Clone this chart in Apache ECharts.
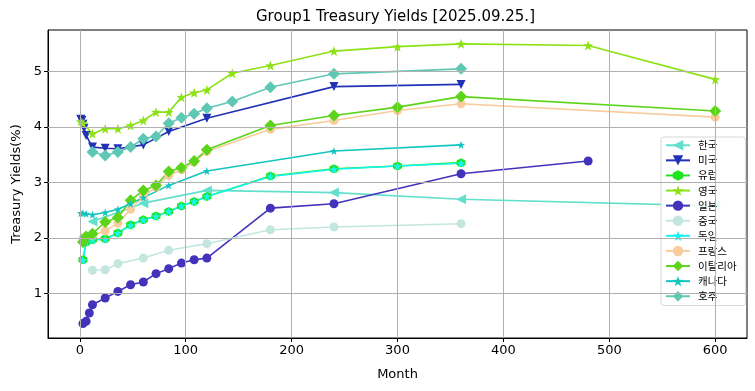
<!DOCTYPE html>
<html>
<head>
<meta charset="utf-8">
<script src="https://cdn.jsdelivr.net/npm/echarts@6/dist/echarts.min.js"></script>
<style>html,body{margin:0;padding:0;background:#fff;}#c{width:755px;height:391px;}</style>
</head>
<body>
<div id="c"></div>
<script>
// ---- data (months, yields %) ----
const koreaX = [12, 60, 120, 240, 360, 600];
const koreaY = [2.30, 2.63, 2.86, 2.82, 2.70, 2.58];
const usX = [1, 2, 3, 4, 6, 12, 24, 36, 60, 84, 120, 240, 360];
const usY = [4.14, 4.12, 4.05, 3.98, 3.85, 3.64, 3.62, 3.61, 3.68, 3.92, 4.16, 4.73, 4.77];
const euX = [3, 6, 12, 24, 36, 48, 60, 72, 84, 96, 108, 120, 180, 240, 300, 360];
const euY = [1.61, 1.93, 1.97, 1.99, 2.09, 2.24, 2.33, 2.40, 2.48, 2.58, 2.66, 2.75, 3.12, 3.25, 3.30, 3.36];
const ukX = [1, 3, 12, 24, 36, 48, 60, 72, 84, 96, 108, 120, 144, 180, 240, 300, 360, 480, 600];
const ukY = [4.10, 4.07, 3.88, 3.97, 3.97, 4.03, 4.12, 4.27, 4.27, 4.54, 4.62, 4.67, 4.97, 5.11, 5.37, 5.45, 5.50, 5.47, 4.86];
const jpX = [3, 6, 9, 12, 24, 36, 48, 60, 72, 84, 96, 108, 120, 180, 240, 360, 480];
const jpY = [0.46, 0.50, 0.65, 0.80, 0.92, 1.04, 1.16, 1.21, 1.36, 1.45, 1.55, 1.61, 1.64, 2.54, 2.62, 3.16, 3.39];
const cnX = [12, 24, 36, 60, 84, 120, 180, 240, 360];
const cnY = [1.42, 1.43, 1.54, 1.64, 1.78, 1.90, 2.15, 2.20, 2.26];
const deX = [3, 6, 12, 24, 36, 48, 60, 72, 84, 96, 108, 120, 180, 240, 300, 360];
const deY = [1.60, 1.93, 1.97, 1.98, 2.09, 2.23, 2.33, 2.39, 2.48, 2.58, 2.66, 2.75, 3.11, 3.24, 3.30, 3.35];
const frX = [3, 6, 12, 24, 36, 48, 60, 72, 84, 96, 108, 120, 180, 240, 300, 360, 600];
const frY = [2.00, 2.03, 2.05, 2.13, 2.27, 2.52, 2.75, 2.92, 3.13, 3.23, 3.37, 3.56, 3.96, 4.12, 4.30, 4.42, 4.18];
const itX = [3, 6, 12, 24, 36, 48, 60, 72, 84, 96, 108, 120, 180, 240, 300, 360, 600];
const itY = [1.93, 2.03, 2.08, 2.29, 2.37, 2.68, 2.86, 2.95, 3.20, 3.27, 3.39, 3.59, 4.03, 4.21, 4.36, 4.55, 4.29];
const caX = [1, 3, 6, 12, 24, 36, 48, 60, 84, 120, 240, 360];
const caY = [2.45, 2.45, 2.44, 2.42, 2.46, 2.52, 2.62, 2.73, 2.95, 3.21, 3.57, 3.68];
const auX = [12, 24, 36, 48, 60, 72, 84, 96, 108, 120, 144, 180, 240, 360];
const auY = [3.55, 3.49, 3.55, 3.64, 3.79, 3.83, 4.07, 4.17, 4.24, 4.34, 4.46, 4.72, 4.96, 5.05];

const xTicks = [0, 100, 200, 300, 400, 500, 600];
const yTicks = [1, 2, 3, 4, 5];
const titleText = 'Group1 Treasury Yields [2025.09.25.]';

// ---- styling ----
const STAR = 'path://M0,-10 L2.35,-3.24 L9.51,-3.09 L3.8,1.24 L5.88,8.09 L0,4 L-5.88,8.09 L-3.8,1.24 L-9.51,-3.09 L-2.35,-3.24 Z';
const HEX = 'path://M0,-10 L8.66,-5 L8.66,5 L0,10 L-8.66,5 L-8.66,-5 Z';

const defs = [
  {name: '한국', x: koreaX, y: koreaY, color: '#62e0cc', symbol: 'triangle', size: 10, rot: 90},
  {name: '미국', x: usX, y: usY, color: '#2232b6', symbol: 'triangle', size: 9, rot: 180},
  {name: '유럽', x: euX, y: euY, color: '#1fe41f', symbol: HEX, size: 9, rot: 0},
  {name: '영국', x: ukX, y: ukY, color: '#8ce214', symbol: STAR, size: 10, rot: 0},
  {name: '일본', x: jpX, y: jpY, color: '#4333ba', symbol: 'circle', size: 9, rot: 0},
  {name: '중국', x: cnX, y: cnY, color: '#c3e7df', symbol: 'circle', size: 9, rot: 0},
  {name: '독일', x: deX, y: deY, color: '#14f6ef', symbol: STAR, size: 9, rot: 0},
  {name: '프랑스', x: frX, y: frY, color: '#f8cc9c', symbol: 'circle', size: 9, rot: 0},
  {name: '이탈리아', x: itX, y: itY, color: '#5cd41a', symbol: 'diamond', size: 12, rot: 0},
  {name: '캐나다', x: caX, y: caY, color: '#12c6c0', symbol: STAR, size: 8, rot: 0},
  {name: '호주', x: auX, y: auY, color: '#5ec8b4', symbol: 'diamond', size: 12, rot: 0}
];

const gridSeries = {
  type: 'line', name: '_grid', data: [], z: 0, silent: true,
  markLine: {
    silent: true, symbol: ['none', 'none'], label: {show: false}, animation: false,
    lineStyle: {color: '#b0b0b0', width: 1, type: 'solid'},
    data: xTicks.map(v => ({xAxis: v})).concat(yTicks.map(v => ({yAxis: v})))
  }
};

const series = [gridSeries].concat(defs.map(d => ({
  type: 'line', name: d.name,
  data: d.x.map((m, i) => [m, d.y[i]]),
  symbol: d.symbol, symbolSize: d.size, symbolRotate: d.rot, showAllSymbol: true,
  lineStyle: {color: d.color, width: 1.6},
  itemStyle: {color: d.color, borderWidth: 0},
  z: 2
})));

const FONT = 'DejaVu Sans';
const chart = echarts.init(document.getElementById('c'), null, {renderer: 'canvas'});
chart.setOption({
  animation: false,
  backgroundColor: '#fff',
  title: {text: titleText, left: 256, top: 10, padding: 0,
    textStyle: {fontFamily: FONT, fontSize: 15, fontWeight: 'normal', color: '#000'}},
  grid: {left: 48, right: 8, top: 30, bottom: 53, show: true, borderColor: '#000', borderWidth: 1, backgroundColor: 'transparent'},
  xAxis: {
    type: 'value', min: -30, max: 630,
    name: 'Month', nameLocation: 'middle', nameGap: 30,
    nameTextStyle: {fontFamily: FONT, fontSize: 13, color: '#000'},
    axisLine: {show: true, onZero: false, lineStyle: {color: '#000'}},
    axisTick: {show: true, length: 4, customValues: xTicks, lineStyle: {color: '#000'}},
    axisLabel: {customValues: xTicks, fontFamily: FONT, fontSize: 13, color: '#000', margin: 6},
    splitLine: {show: false}
  },
  yAxis: {
    type: 'value', min: 0.2, max: 5.75,
    name: 'Treasury Yields(%)', nameLocation: 'middle', nameGap: 24,
    nameTextStyle: {fontFamily: FONT, fontSize: 13, color: '#000'},
    axisLine: {show: true, onZero: false, lineStyle: {color: '#000'}},
    axisTick: {show: true, length: 4, customValues: yTicks, lineStyle: {color: '#000'}},
    axisLabel: {customValues: yTicks, fontFamily: FONT, fontSize: 13, color: '#000', margin: 6},
    splitLine: {show: false}
  },
  legend: {
    data: defs.map(d => d.name),
    orient: 'vertical', left: 661, top: 137,
    padding: [3, 9, 4, 4], itemGap: 4.6, itemWidth: 24, itemHeight: 13,
    backgroundColor: 'rgba(255,255,255,0.85)', borderColor: '#d8d8d8', borderWidth: 1, borderRadius: 3,
    textStyle: {fontFamily: 'Noto Sans CJK KR', fontSize: 10.5, color: '#000', padding: [0, 0, 0, 3]}
  },
  series: series
});
</script>
</body>
</html>
